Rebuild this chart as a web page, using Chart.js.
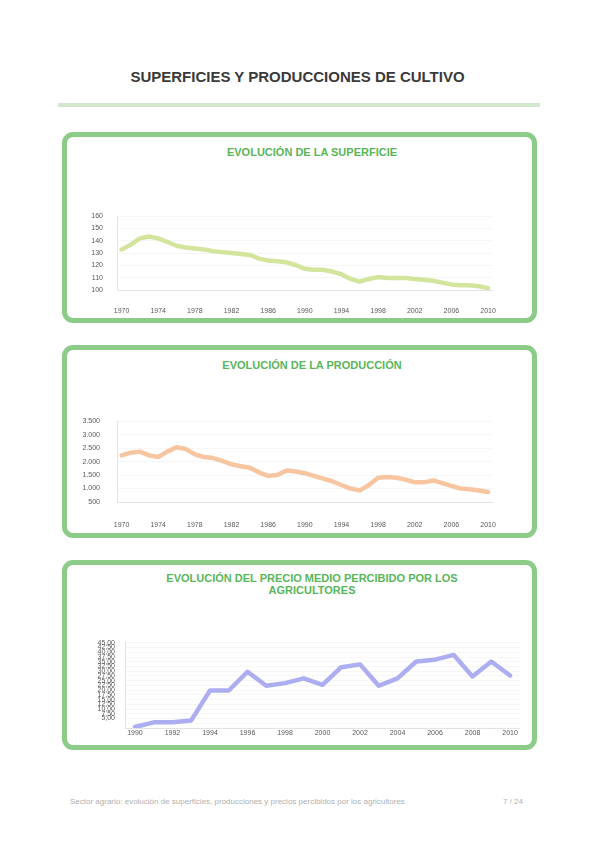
<!DOCTYPE html>
<html lang="es">
<head>
<meta charset="utf-8">
<title>Superficies y producciones de cultivo</title>
<script src="https://cdn.jsdelivr.net/npm/chart.js@4.4.1/dist/chart.umd.min.js"></script>
<style>
    body {
        margin: 0;
        width: 595px;
        height: 842px;
        position: relative;
        overflow: hidden;
        background: #fff;
        font-family: "Liberation Sans", Arial, sans-serif;
    }
    .page-title {
        position: absolute;
        left: 0;
        top: 67px;
        width: 595px;
        text-align: center;
        font-size: 15px;
        line-height: 20px;
        font-weight: bold;
        color: #3a3a3a;
    }
    .rule {
        position: absolute;
        left: 58px;
        top: 103px;
        width: 482px;
        height: 4px;
        background: #d3e7cf;
    }
    .box {
        position: absolute;
        left: 62px;
        width: 475px;
        border: 5px solid #8dcb88;
        border-radius: 11px;
        box-sizing: border-box;
    }
    .chart-title {
        position: absolute;
        left: 112px;
        width: 400px;
        text-align: center;
        font-size: 11px;
        line-height: 12px;
        font-weight: bold;
        color: #5ab55a;
    }
    .chart-wrap {
        position: absolute;
        left: 67px;
        width: 465px;
    }
    .footer {
        position: absolute;
        top: 797px;
        font-size: 8px;
        line-height: 10px;
        color: #b0b0b0;
    }
</style>
</head>
<body>

<div class="page-title">SUPERFICIES Y PRODUCCIONES DE CULTIVO</div>
<div class="rule"></div>

<div class="box" style="top:132px; height:191px;"></div>
<div class="chart-title" style="top:146px;">EVOLUCIÓN DE LA SUPERFICIE</div>
<div class="chart-wrap" style="top:198px; height:120px;"><canvas id="supChart"></canvas></div>

<div class="box" style="top:345px; height:193px;"></div>
<div class="chart-title" style="top:359px;">EVOLUCIÓN DE LA PRODUCCIÓN</div>
<div class="chart-wrap" style="top:400px; height:133px;"><canvas id="prodChart"></canvas></div>

<div class="box" style="top:560px; height:190px;"></div>
<div class="chart-title" style="top:572px;">EVOLUCIÓN DEL PRECIO MEDIO PERCIBIDO POR LOS<br>AGRICULTORES</div>
<div class="chart-wrap" style="top:628px; height:117px;"><canvas id="precioChart"></canvas></div>

<div class="footer" style="left:70px;">Sector agrario: evolución de superficies, producciones y precios percibidos por los agricultores</div>
<div class="footer" style="left:503px;">7 / 24</div>

<script>
// years shown on the first two charts (label every 4th)
const years = [
    "1970", "1971", "1972", "1973", "1974", "1975", "1976", "1977", "1978", "1979",
    "1980", "1981", "1982", "1983", "1984", "1985", "1986", "1987", "1988", "1989",
    "1990", "1991", "1992", "1993", "1994", "1995", "1996", "1997", "1998", "1999",
    "2000", "2001", "2002", "2003", "2004", "2005", "2006", "2007", "2008", "2009",
    "2010"
];

// superficie, miles de ha
const superficie = [
    133, 136.8, 142, 143.5, 142, 139, 136, 134.5, 133.8, 133,
    131.5, 130.8, 130, 129.3, 128.5, 125.5, 124, 123.3, 122.5, 120.3,
    117.3, 116.5, 116.5, 115, 112.8, 109, 106.8, 109, 110.5, 109.8,
    109.8, 109.8, 109, 108.3, 107.5, 106, 104.5, 103.8, 103.8, 103,
    101.5
];

// produccion, miles de t
const produccion = [
    2230, 2330, 2370, 2230, 2170, 2370, 2530, 2470, 2270, 2170,
    2130, 2030, 1900, 1830, 1770, 1600, 1470, 1500, 1670, 1630,
    1570, 1470, 1370, 1270, 1130, 1000, 930, 1130, 1400, 1430,
    1400, 1330, 1230, 1230, 1300, 1200, 1100, 1000, 970, 930,
    870
];

// third chart (label every 2nd)
const yearsPrecio = [
    "1990", "1991", "1992", "1993", "1994", "1995", "1996", "1997", "1998", "1999",
    "2000", "2001", "2002", "2003", "2004", "2005", "2006", "2007", "2008", "2009",
    "2010"
];

// precio medio, euros/100 kg
const precio = [
    0.5, 3.0, 3.0, 4.0, 19.8, 19.8, 29.7, 22.3, 23.7, 26.2,
    22.8, 32.1, 33.6, 22.3, 26.2, 35.1, 36.1, 38.6, 27.2, 35.1,
    27.7
];

// y axis ranges
const supAxis = { min: 100, max: 160, step: 10 };
const prodAxis = { min: 500, max: 3500, step: 500 };
const precioAxis = { min: 0, max: 45, step: 2.5 };

Chart.defaults.font.family = '"Liberation Sans", Arial, sans-serif';
Chart.defaults.color = "#595959";

function thousands(v) {
    return String(v).replace(/\B(?=(\d{3})+(?!\d))/g, ".");
}

function buildChart(id, labels, values, color, cfg) {
    const ctx = document.getElementById(id).getContext("2d");
    return new Chart(ctx, {
        type: "line",
        data: {
            labels: labels,
            datasets: [
                {
                    data: values,
                    borderColor: color,
                    borderWidth: 4.5,
                    borderJoinStyle: "round",
                    borderCapStyle: "round",
                    pointRadius: 0,
                    tension: 0,
                    fill: false
                }
            ]
        },
        options: {
            responsive: true,
            maintainAspectRatio: false,
            animation: false,
            layout: {
                padding: { top: cfg.padTop, right: cfg.padRight, bottom: 0, left: 0 }
            },
            plugins: {
                legend: { display: false },
                tooltip: { enabled: false }
            },
            scales: {
                x: {
                    offset: true,
                    grid: { display: false, drawTicks: false },
                    border: { color: "#e3e3e3" },
                    ticks: {
                        autoSkip: false,
                        maxRotation: 0,
                        padding: cfg.xPad,
                        font: { size: 7 },
                        callback: (val, i) => (i % cfg.every === 0 ? labels[i] : "")
                    },
                    afterFit: (axis) => { axis.height = cfg.xHeight; }
                },
                y: {
                    min: cfg.axis.min,
                    max: cfg.axis.max,
                    grid: { color: "rgba(0,0,0,0.035)", drawTicks: false },
                    border: { color: "#e3e3e3" },
                    ticks: {
                        stepSize: cfg.axis.step,
                        autoSkip: false,
                        padding: cfg.yPad,
                        font: { size: 7 },
                        callback: cfg.fmt
                    },
                    afterFit: (axis) => { axis.width = cfg.yWidth; }
                }
            }
        }
    });
}

buildChart("supChart", years, superficie, "#d3e59c", {
    axis: supAxis, every: 4,
    padTop: 12, padRight: 39.4, xHeight: 28, xPad: 17, yWidth: 50, yPad: 14,
    fmt: (v) => String(v)
});

buildChart("prodChart", years, produccion, "#f7c6a0", {
    axis: prodAxis, every: 4,
    padTop: 12, padRight: 39.4, xHeight: 31, xPad: 19, yWidth: 50, yPad: 17,
    fmt: (v) => thousands(v)
});

// price axis labels are packed tight; the lowest ones are left blank
buildChart("precioChart", yearsPrecio, precio, "#adadf2", {
    axis: precioAxis, every: 2,
    padTop: 9, padRight: 12.6, xHeight: 17, xPad: 1, yWidth: 58.6, yPad: 10.6,
    fmt: (v) => (v < 5 ? "" : v.toFixed(2).replace(".", ","))
});
</script>
</body>
</html>
